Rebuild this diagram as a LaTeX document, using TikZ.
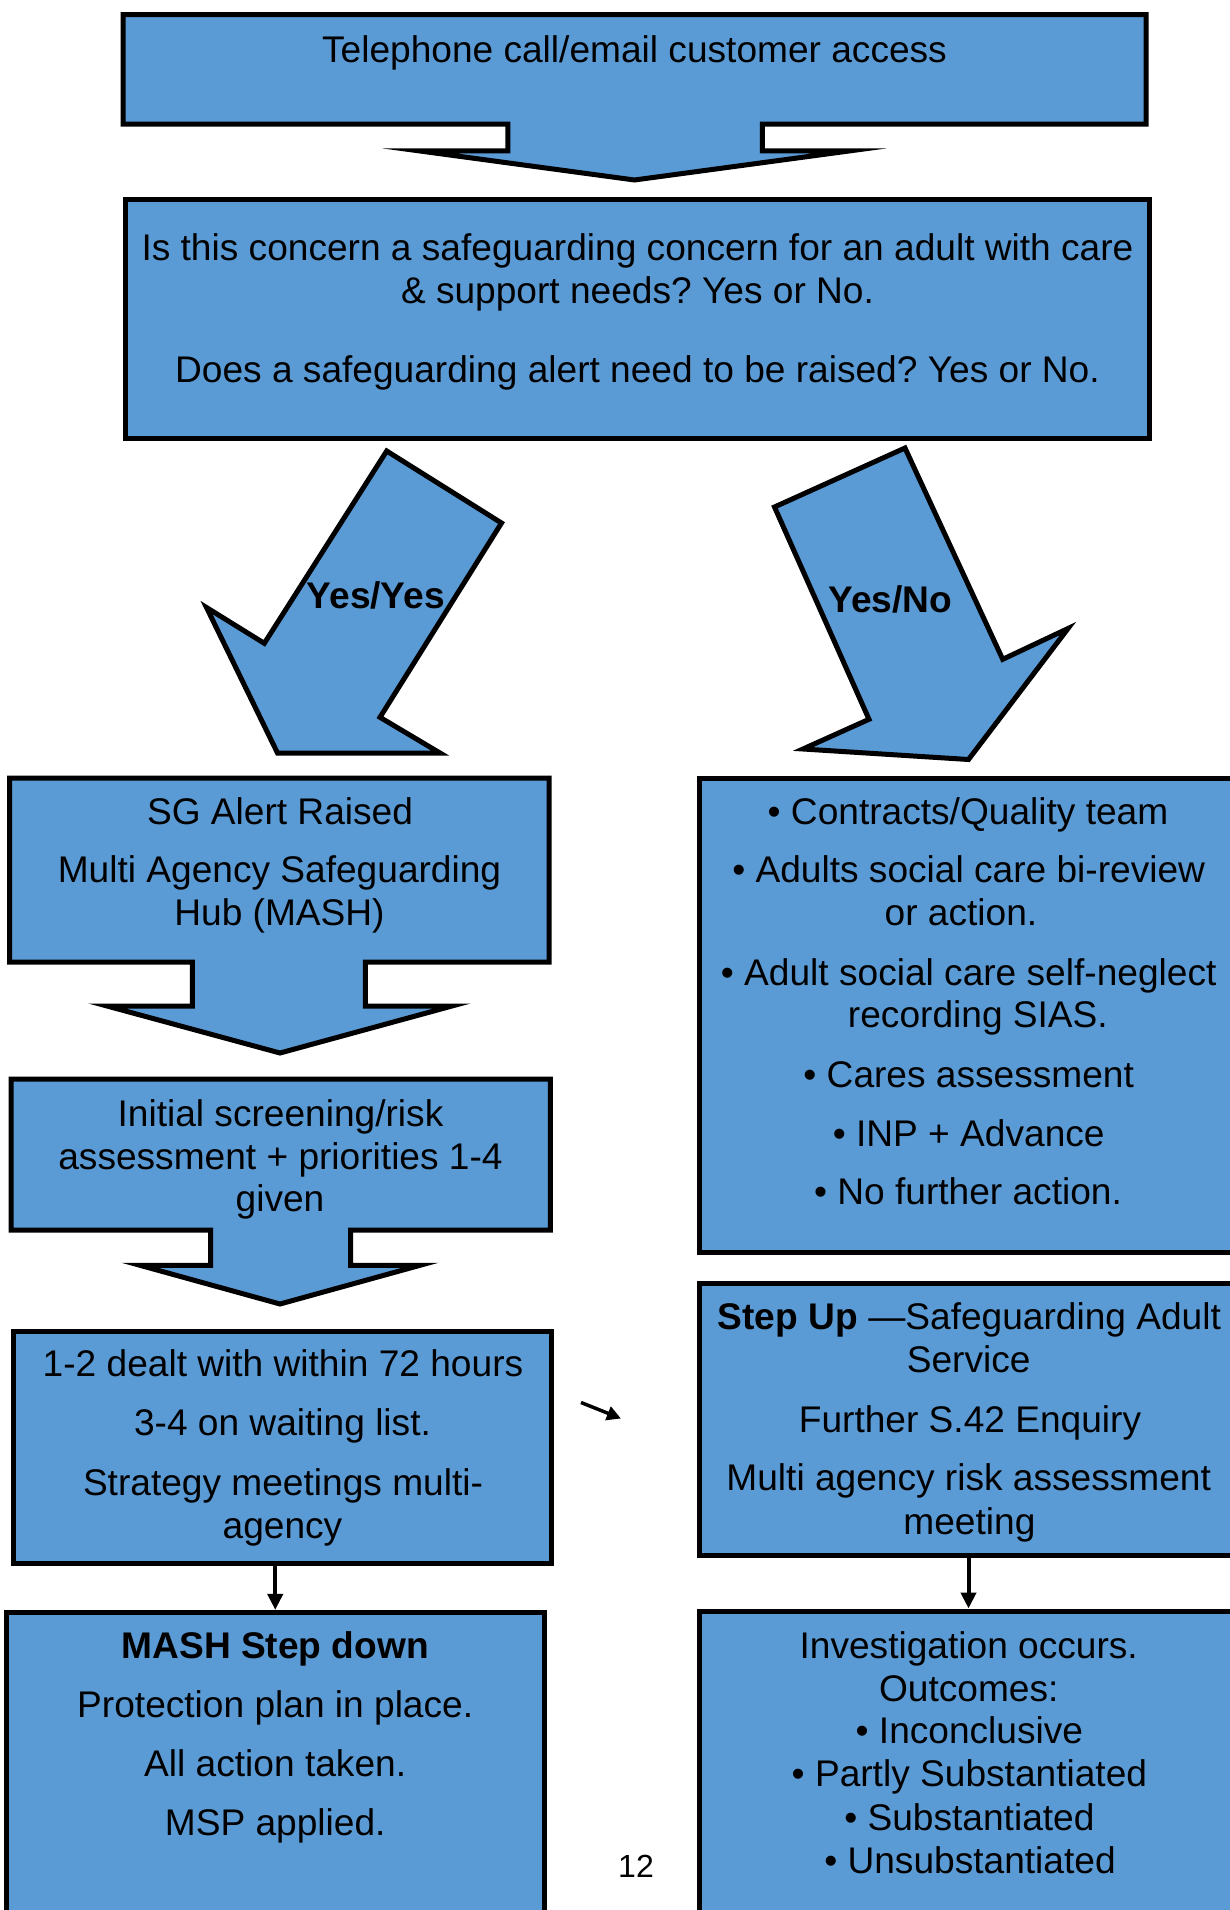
\documentclass[tikz,border=0pt]{standalone}
\usepackage{fontspec}
\setmainfont{Liberation Sans}
\usetikzlibrary{arrows.meta,fit}
\definecolor{sgblue}{RGB}{91,155,213}
\frenchspacing
\tikzset{
  outlinepath/.style={draw=black, fill=sgblue, line width=5pt, line join=miter, miter limit=30},
  plainbox/.style={rectangle, draw=black, line width=5pt, fill=sgblue, inner sep=0pt},
  txt/.style={font=\fontsize{37.1}{44}\selectfont, inner sep=0pt, anchor=base},
  btxt/.style={font=\fontsize{37.1}{44}\selectfont\bfseries, inner sep=0pt, anchor=base},
  conn/.style={draw=black, line width=4pt, -{Triangle[width=15pt,length=16pt]}},
  smallconn/.style={draw=black, line width=3.5pt, -{Triangle[width=14pt,length=14pt]}},
}
\begin{document}
\begin{tikzpicture}[x=1pt,y=-1pt]
\useasboundingbox (0,0) rectangle (1230,1910);
\fill[white] (0,0) rectangle (1230,1910);
\clip (0,0) rectangle (1230,1910);

% ---------- top callout ----------
\draw[outlinepath] (123,14.6) -- (1146,14.6) -- (1146,124.2) -- (762.3,124.2) -- (762.3,151) -- (849,151)
  -- (634.5,180) -- (420,151) -- (507.8,151) -- (507.8,124.2) -- (123,124.2) -- cycle;
\node[txt] (access) at (634.5,62.1) {Telephone call/email customer access};

% ---------- question box ----------
\node[plainbox, fit={(125.4,199.5) (1149.6,438.4)}] (question) {};
\node[txt] (q1) at (637.5,260.6) {Is this concern a safeguarding concern for an adult with care};
\node[txt] (q2) at (637.5,303.2) {\& support needs? Yes or No.};
\node[txt] (q3) at (637.5,382.4) {Does a safeguarding alert need to be raised? Yes or No.};

% ---------- diagonal arrows ----------
\draw[outlinepath] (386.7,451) -- (501.5,523) -- (380,717.3) -- (440,753) -- (277.5,753)
  -- (206.5,607.5) -- (264.3,643.3) -- cycle;
\node[btxt] (yesyes) at (375.8,608.3) {Yes/Yes};

\draw[outlinepath] (905,448) -- (1002.7,659.3) -- (1068,628.5) -- (968.5,759.5)
  -- (803,749) -- (869,719.3) -- (774.5,507) -- cycle;
\node[btxt] (yesno) at (890.5,612.7) {Yes/No};

% ---------- SG alert callout ----------
\draw[outlinepath] (9.7,778.2) -- (549.2,778.2) -- (549.2,962) -- (365.3,962) -- (365.3,1006) -- (452,1006)
  -- (280,1053) -- (107,1006) -- (192.4,1006) -- (192.4,962) -- (9.7,962) -- cycle;
\node[txt] (sg1) at (280,824.5) {SG Alert Raised};
\node[txt] (sg2) at (279.5,882.9) {Multi Agency Safeguarding};
\node[txt] (sg3) at (279.5,925.5) {Hub (MASH)};

% ---------- initial screening callout ----------
\draw[outlinepath] (11,1079) -- (550.4,1079) -- (550.4,1230) -- (350.7,1230) -- (350.7,1265.3) -- (420,1265.3)
  -- (280,1304) -- (140,1265.3) -- (210.7,1265.3) -- (210.7,1230) -- (11,1230) -- cycle;
\node[txt] (in1) at (280.5,1126.5) {Initial screening/risk};
\node[txt] (in2) at (280.5,1169.1) {assessment + priorities 1-4};
\node[txt] (in3) at (280,1211.7) {given};

% ---------- left lower boxes ----------
\node[plainbox, fit={(13.4,1331) (551.7,1563.7)}] (dealt) {};
\node[txt] (d1) at (283,1376.1) {1-2 dealt with within 72 hours};
\node[txt] (d2) at (282.5,1435.8) {3-4 on waiting list.};
\node[txt] (d3) at (283,1495.5) {Strategy meetings multi-};
\node[txt] (d4) at (282.5,1538.1) {agency};

\node[plainbox, fit={(6.1,1612.4) (544.4,1970)}] (mash) {};
\node[btxt] (m1) at (275.2,1658.6) {MASH Step down};
\node[txt] (m2) at (275.2,1717.1) {Protection plan in place.};
\node[txt] (m3) at (275.2,1776.8) {All action taken.};
\node[txt] (m4) at (275.2,1835.2) {MSP applied.};

% ---------- right boxes ----------
\node[plainbox, fit={(699,778.2) (1238,1252)}] (options) {};
\node[txt] (o1) at (968,824.5) {• Contracts/Quality team};
\node[txt] (o2) at (968.7,882.9) {• Adults social care bi-review};
\node[txt] (o3) at (961,925.5) {or action.};
\node[txt] (o4) at (968.7,985.2) {• Adult social care self-neglect};
\node[txt] (o5) at (977.9,1027.8) {recording SIAS.};
\node[txt] (o6) at (968.7,1087.5) {• Cares assessment};
\node[txt] (o7) at (968.7,1146) {• INP + Advance};
\node[txt] (o8) at (968,1204.4) {• No further action.};

\node[plainbox, fit={(699,1283.6) (1238,1555)}] (stepup) {};
\node[txt] (s1) at (969.4,1329.8) {\textbf{Step Up} —Safeguarding Adult};
\node[txt] (s2) at (968.7,1372.5) {Service};
\node[txt] (s3) at (970,1432.1) {Further S.42 Enquiry};
\node[txt] (s4) at (968.7,1490.6) {Multi agency risk assessment};
\node[txt] (s5) at (969.4,1534.4) {meeting};

\node[plainbox, fit={(699,1611) (1238,1970)}] (invest) {};
\node[txt] (v1) at (968.7,1658.6) {Investigation occurs.};
\node[txt] (v2) at (968.7,1701.3) {Outcomes:};
\node[txt] (v3) at (969.4,1743.9) {• Inconclusive};
\node[txt] (v4) at (969.4,1786.5) {• Partly Substantiated};
\node[txt] (v5) at (969.4,1830.4) {• Substantiated};
\node[txt] (v6) at (970,1873) {• Unsubstantiated};

% ---------- connectors ----------
\draw[conn] (dealt.south -| mash.north) -- (mash.north);
\draw[conn] (stepup.south) -- (invest.north);
\coordinate (free1) at (581,1402.5);
\coordinate (free2) at (621,1418.5);
\draw[smallconn] (free1) -- (free2);

% ---------- page number ----------
\node[inner sep=0pt, anchor=base, font=\fontsize{32}{38}\selectfont] (pagenum) at (636,1877) {12};
\end{tikzpicture}
\end{document}
